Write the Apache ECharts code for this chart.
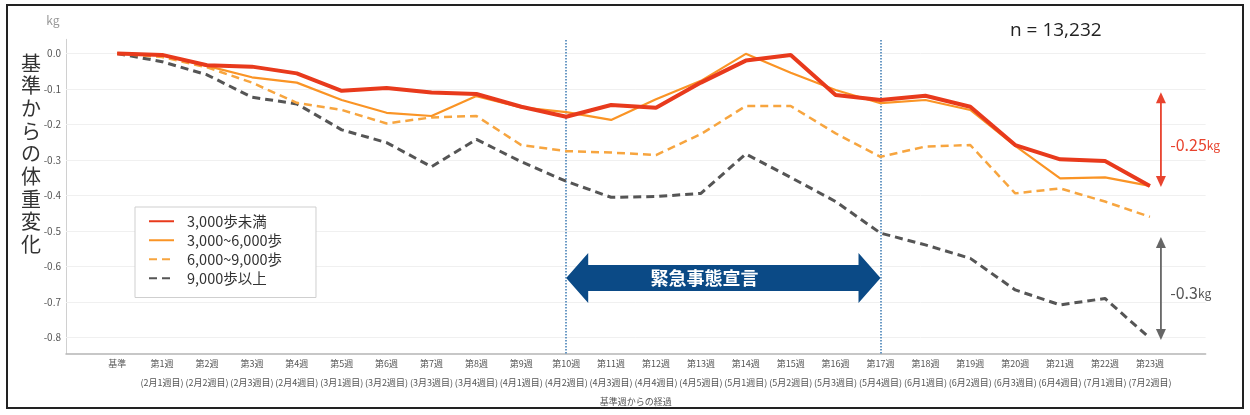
<!DOCTYPE html>
<html><head><meta charset="utf-8">
<script src="https://cdn.jsdelivr.net/npm/echarts@6/dist/echarts.min.js"></script>
<style>html,body{margin:0;padding:0;background:#fff}#c{width:1250px;height:415px}</style>
</head><body><div id="c"></div>
<script>
const weekNames = ['基準','第1週','第2週','第3週','第4週','第5週','第6週','第7週','第8週','第9週','第10週','第11週','第12週','第13週','第14週','第15週','第16週','第17週','第18週','第19週','第20週','第21週','第22週','第23週'];
const monthWeeks = ['','(2月1週目)','(2月2週目)','(2月3週目)','(2月4週目)','(3月1週目)','(3月2週目)','(3月3週目)','(3月4週目)','(4月1週目)','(4月2週目)','(4月3週目)','(4月4週目)','(4月5週目)','(5月1週目)','(5月2週目)','(5月3週目)','(5月4週目)','(6月1週目)','(6月2週目)','(6月3週目)','(6月4週目)','(7月1週目)','(7月2週目)'];
const weekIndex = [0,1,2,3,4,5,6,7,8,9,10,11,12,13,14,15,16,17,18,19,20,21,22,23];
const under3000 = [0,-0.004,-0.033,-0.037,-0.056,-0.105,-0.097,-0.11,-0.114,-0.15,-0.178,-0.145,-0.153,-0.082,-0.02,-0.004,-0.117,-0.131,-0.119,-0.15,-0.258,-0.298,-0.303,-0.373];
const from3000to6000 = [0,-0.003,-0.035,-0.067,-0.082,-0.131,-0.167,-0.176,-0.12,-0.152,-0.165,-0.187,-0.129,-0.077,-0.001,-0.054,-0.103,-0.14,-0.131,-0.159,-0.26,-0.352,-0.349,-0.373];
const from6000to9000 = [0,-0.01,-0.039,-0.082,-0.139,-0.159,-0.197,-0.18,-0.176,-0.258,-0.275,-0.279,-0.286,-0.227,-0.148,-0.148,-0.225,-0.291,-0.262,-0.258,-0.394,-0.38,-0.417,-0.46];
const over9000 = [0,-0.023,-0.06,-0.123,-0.142,-0.215,-0.251,-0.319,-0.242,-0.305,-0.36,-0.405,-0.403,-0.394,-0.283,-0.349,-0.417,-0.506,-0.539,-0.577,-0.666,-0.708,-0.69,-0.802];
const yTicks = [0,-0.1,-0.2,-0.3,-0.4,-0.5,-0.6,-0.7,-0.8];
const seriesNames = ['3,000歩未満','3,000~6,000歩','6,000~9,000歩','9,000歩以上'];
const emergencyWeeks = [10,17];
const emergencyLabel = '緊急事態宣言';
const sampleLabel = 'n = 13,232';
const diffLow = '-0.25';
const diffHigh = '-0.3';

const FONT = '"Noto Sans CJK JP", "Noto Sans", sans-serif';
const pts = arr => weekIndex.map((w,i)=>[w, arr[i]]);

const chart = echarts.init(document.getElementById('c'), null, {renderer:'canvas'});
const option = {
  animation:false,
  textStyle:{fontFamily:FONT},
  grid:{left:66, right:44.4, top:39.3, bottom:61.5, containLabel:false},
  xAxis:{type:'value', min:-1.14, max:24.24,
    axisLine:{show:true, onZero:false, lineStyle:{color:'#b5b5b5', width:1.5}},
    axisTick:{show:false}, splitLine:{show:false},
    axisLabel:{customValues:weekIndex, margin:1, color:'#555', fontSize:9, lineHeight:19, fontFamily:FONT,
      formatter:v=>{const i=Math.round(v); return monthWeeks[i]? weekNames[i]+'\n'+monthWeeks[i] : weekNames[i];}},
    name:'基準週からの経過', nameLocation:'middle', nameGap:40,
    nameTextStyle:{color:'#555', fontSize:9, fontFamily:FONT}
  },
  yAxis:{type:'value', min:-0.845, max:0.04,
    axisLine:{show:true, onZero:false, lineStyle:{color:'#d0d0d0', width:1}},
    axisTick:{show:false}, splitLine:{show:false},
    axisLabel:{customValues:yTicks, margin:5, color:'#555', fontSize:10, fontFamily:FONT,
      formatter:v=>v.toFixed(1)}
  },
  legend:{orient:'vertical', left:135, top:207, data:seriesNames,
    padding:[7,34,12,13], itemWidth:25, itemHeight:14, itemGap:4.5,
    borderColor:'#cfcfcf', borderWidth:1, backgroundColor:'#fff',
    textStyle:{fontSize:14.5, color:'#333', fontFamily:FONT, padding:[0,0,0,8]},
    itemStyle:{opacity:0, borderWidth:0},
    lineStyle:{width:2}
  },
  series:[
    {name:seriesNames[3], type:'line', data:pts(over9000), symbol:'none', z:2,
      lineStyle:{color:'#555', width:3, type:[8,5]}, itemStyle:{color:'#555'},
      markLine:{silent:true, z:1, symbol:'none', label:{show:false},
        lineStyle:{color:'#f0f0f0', width:1, type:'solid'},
        data:yTicks.map(v=>({yAxis:v}))}
    },
    {name:seriesNames[2], type:'line', data:pts(from6000to9000), symbol:'none', z:3,
      lineStyle:{color:'#f7a53f', width:2.5, type:[8,5]}, itemStyle:{color:'#f7a53f'},
      markLine:{silent:true, z:1, symbol:'none', label:{show:false},
        lineStyle:{color:'#3b7ab3', width:1.5, type:'dotted'},
        data:emergencyWeeks.map(v=>({xAxis:v}))}
    },
    {name:seriesNames[1], type:'line', data:pts(from3000to6000), symbol:'none', z:4,
      lineStyle:{color:'#fa9425', width:2.2}, itemStyle:{color:'#fa9425'}},
    {name:seriesNames[0], type:'line', data:pts(under3000), symbol:'none', z:5,
      lineStyle:{color:'#e83a1c', width:4}, itemStyle:{color:'#e83a1c'}}
  ]
};
chart.setOption(option);

const P = (x,y)=>chart.convertToPixel({gridIndex:0},[x,y]);
function vArrow(x, y1, y2, color){
  const [px, a] = P(x, y1); const [, b] = P(x, y2);
  const L = 11, W = 5;
  return [
    {type:'line', shape:{x1:px, y1:a+L-1, x2:px, y2:b-L+1}, style:{stroke:color, lineWidth:1.8}, z:10},
    {type:'polygon', shape:{points:[[px,a],[px-W,a+L],[px+W,a+L]]}, style:{fill:color}, z:10},
    {type:'polygon', shape:{points:[[px,b],[px-W,b-L],[px+W,b-L]]}, style:{fill:color}, z:10}
  ];
}
const [xa, yc] = P(emergencyWeeks[0], -0.632);
const [xb] = P(emergencyWeeks[1], -0.632);
const L = 22, H = 25, S = 13;
const navy = '#0b4a86';
const graphics = [
  {type:'rect', shape:{x:7, y:5, width:1236, height:403}, style:{fill:'none', stroke:'#222', lineWidth:2}, z:20},
  {type:'text', style:{text:'基\n準\nか\nら\nの\n体\n重\n変\n化', x:31, y:51.6, font:'20px '+FONT, fill:'#333', textAlign:'center', lineHeight:22.7}},
  {type:'text', style:{text:'kg', x:53, y:20, font:'12px '+FONT, fill:'#999', textAlign:'center', textVerticalAlign:'middle'}},
  {type:'text', style:{text:sampleLabel, x:1010, y:31, font:'19px "Open Sans", sans-serif', fill:'#222', textVerticalAlign:'middle'}},
  {type:'polygon', z:10, shape:{points:[[xa,yc],[xa+L,yc-H],[xa+L,yc-S],[xb-L,yc-S],[xb-L,yc-H],[xb,yc],[xb-L,yc+H],[xb-L,yc+S],[xa+L,yc+S],[xa+L,yc+H]]}, style:{fill:navy}},
  {type:'text', z:11, style:{text:emergencyLabel, x:xa+(xb-xa)*0.44, y:yc, font:'bold 18px '+FONT, fill:'#fff', textAlign:'center', textVerticalAlign:'middle'}},
  ...vArrow(23.245, -0.109, -0.376, '#e8432e'),
  ...vArrow(23.245, -0.517, -0.807, '#666'),
];
const [lx1, ly1] = P(23.45, -0.258);
const [lx2, ly2] = P(23.45, -0.675);
graphics.push({type:'text', z:10, style:{text:'{a|'+diffLow+'}{b|kg}', x:lx1, y:ly1, textVerticalAlign:'middle',
  rich:{a:{fontSize:16, fill:'#e8432e', fontFamily:FONT}, b:{fontSize:12, fill:'#e8432e', fontFamily:FONT}}}});
graphics.push({type:'text', z:10, style:{text:'{a|'+diffHigh+'}{b|kg}', x:lx2, y:ly2, textVerticalAlign:'middle',
  rich:{a:{fontSize:16, fill:'#555', fontFamily:FONT}, b:{fontSize:12, fill:'#555', fontFamily:FONT}}}});
chart.setOption({graphic:graphics});
</script></body></html>
